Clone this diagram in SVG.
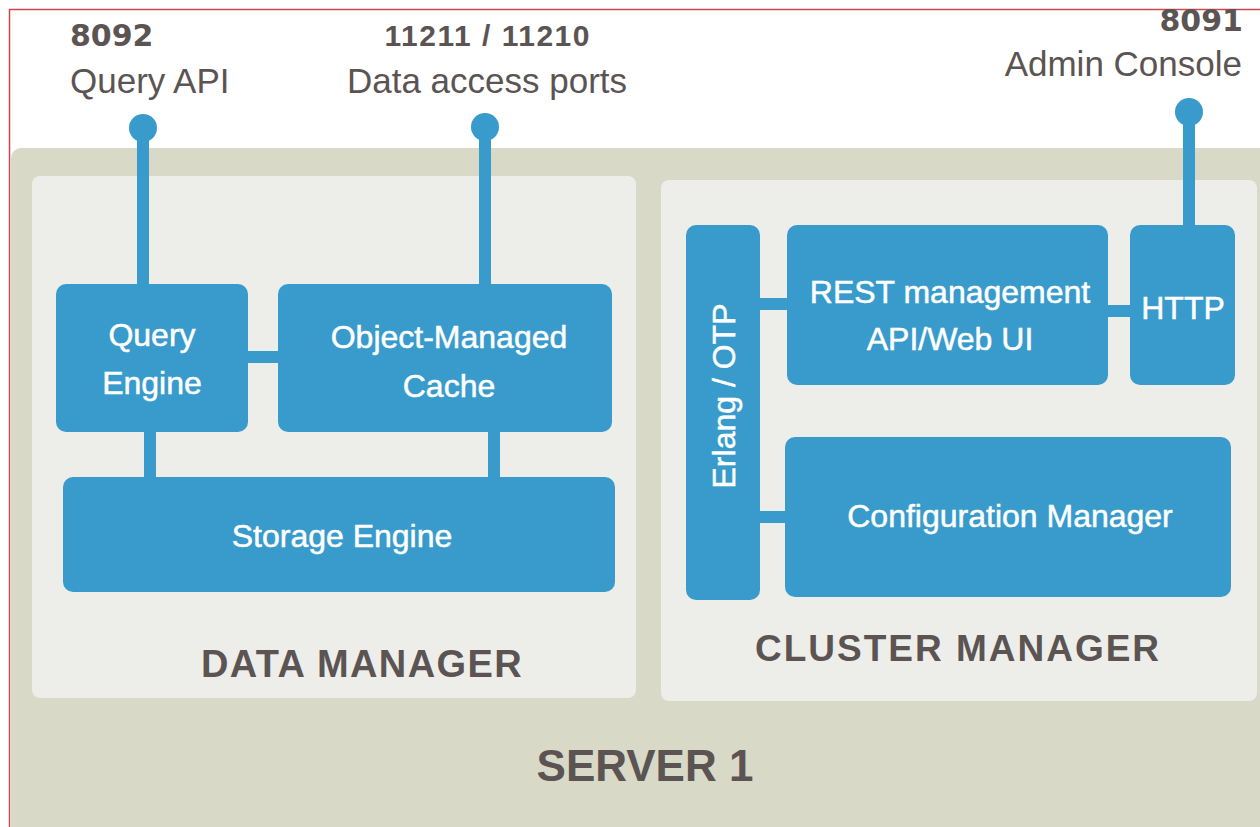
<svg xmlns="http://www.w3.org/2000/svg" width="1260" height="827" viewBox="0 0 1260 827">
<style>
.box{fill:#389BCB}
.panel{fill:#EDEEE9}
.lbl{font-family:"Liberation Sans",Arial,sans-serif;font-size:32px;fill:#FFFFFF;stroke:#FFFFFF;stroke-width:0.5;text-anchor:middle}
.cap{font-family:"Liberation Sans",Arial,sans-serif;font-weight:bold;fill:#5B5453;text-anchor:middle}
.port{font-family:"Liberation Sans",Arial,sans-serif;font-size:35px;fill:#5B5453}
.num{font-family:"DejaVu Sans","Liberation Sans",sans-serif;font-size:30px;font-weight:bold;fill:#5B5453}
.num2{font-family:"Liberation Sans",Arial,sans-serif;font-size:30px;font-weight:bold;fill:#5B5453}
.conn line{stroke:#389BCB;stroke-width:12}
.conn circle{fill:#389BCB}
</style>
<rect x="0" y="0" width="1260" height="827" fill="#FFFFFF"/>
<rect x="9.5" y="9.5" width="1262" height="830" fill="none" stroke="#C9484C" stroke-width="1.5"/>
<g id="server1">
<rect x="11" y="148" width="1260" height="690" rx="10" fill="#D8D9C7"/>
<text class="cap" x="645" y="781" font-size="44">SERVER 1</text>
</g>
<g id="data-manager">
<rect class="panel" x="32" y="176" width="604" height="522" rx="8"/>
<text class="cap" x="362" y="677" font-size="38" letter-spacing="1.4">DATA MANAGER</text>
</g>
<g id="cluster-manager">
<rect class="panel" x="661" y="180" width="596" height="521" rx="8"/>
<text class="cap" x="958" y="661" font-size="37" letter-spacing="2">CLUSTER MANAGER</text>
</g>
<g class="conn" id="connectors">
<line x1="143" y1="128" x2="143" y2="290"/>
<circle cx="143" cy="128" r="14"/>
<line x1="485" y1="127" x2="485" y2="290"/>
<circle cx="485" cy="127" r="14"/>
<line x1="1189" y1="112" x2="1189" y2="230"/>
<circle cx="1189" cy="112" r="14"/>
<line x1="240" y1="357" x2="285" y2="357"/>
<line x1="150" y1="425" x2="150" y2="484"/>
<line x1="494" y1="425" x2="494" y2="484"/>
<line x1="752" y1="304" x2="795" y2="304"/>
<line x1="1100" y1="311" x2="1138" y2="311"/>
<line x1="752" y1="517" x2="793" y2="517"/>
</g>
<g id="ports">
<text class="num" x="70" y="46">8092</text>
<text class="port" x="70" y="93">Query API</text>
<text class="num2" x="487" y="46" text-anchor="middle" textLength="205" lengthAdjust="spacing">11211 / 11210</text>
<text class="port" x="487" y="93" text-anchor="middle">Data access ports</text>
<text class="num" x="1243" y="31" text-anchor="end">8091</text>
<text class="port" x="1242" y="76" text-anchor="end">Admin Console</text>
</g>
<g id="query-engine">
<rect class="box" x="56" y="284" width="192" height="148" rx="10"/>
<text class="lbl" x="152" y="346">Query</text>
<text class="lbl" x="152" y="394">Engine</text>
</g>
<g id="object-managed-cache">
<rect class="box" x="278" y="284" width="334" height="148" rx="10"/>
<text class="lbl" x="449" y="348">Object-Managed</text>
<text class="lbl" x="449" y="397">Cache</text>
</g>
<g id="storage-engine">
<rect class="box" x="63" y="477" width="552" height="115" rx="10"/>
<text class="lbl" x="342" y="547">Storage Engine</text>
</g>
<g id="erlang-otp">
<rect class="box" x="686" y="225" width="74" height="375" rx="10"/>
<text class="lbl" transform="translate(735,396) rotate(-90)">Erlang / OTP</text>
</g>
<g id="rest-management">
<rect class="box" x="787" y="225" width="321" height="160" rx="10"/>
<text class="lbl" x="950" y="303">REST management</text>
<text class="lbl" x="950" y="350">API/Web UI</text>
</g>
<g id="http">
<rect class="box" x="1130" y="225" width="105" height="160" rx="10"/>
<text class="lbl" x="1183" y="319">HTTP</text>
</g>
<g id="configuration-manager">
<rect class="box" x="785" y="437" width="446" height="160" rx="10"/>
<text class="lbl" x="1010" y="527">Configuration Manager</text>
</g>
</svg>
